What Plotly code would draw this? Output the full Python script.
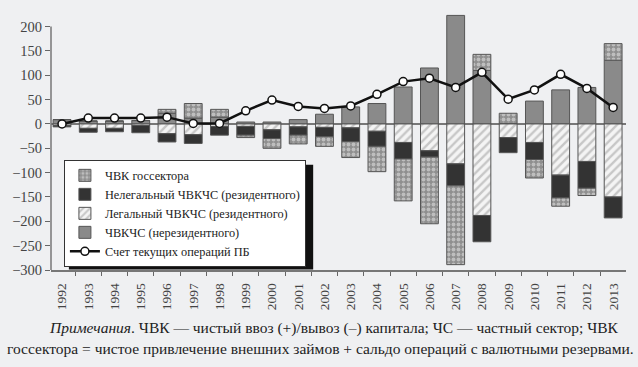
import plotly.graph_objects as go

years = [str(y) for y in range(1992, 2014)]
nonres = [9, 6, 6, 7, 22, 12, 14, 4, 4, 9, 20, 35, 42, 76, 115, 223, 110, 1, 47, 70, 75, 131]
legal = [-3, -9, -9, -3, -20, -22, -5, -5, -12, -6, -7, -8, -15, -38, -55, -82, -188, -28, -38, -105, -77, -150]
illegal = [-3, -8, -7, -15, -17, -18, -18, -18, -18, -17, -19, -28, -31, -34, -13, -45, -54, -31, -35, -47, -55, -43]
gov = [0, 0, 0, 0, 8, 30, 16, -5, -20, -18, -20, -33, -52, -86, -137, -162, 33, 21, -38, -17, -15, 34]
current = [0, 12, 12, 12, 14, 1, 1, 27, 49, 36, 32, 37, 61, 87, 94, 75, 106, 51, 70, 102, 73, 34]

y_ticks = [200, 150, 100, 50, 0, -50, -100, -150, -200, -250, -300]

names = {
    "gov": "ЧВК госсектора",
    "illegal": "Нелегальный ЧВКЧС (резидентного)",
    "legal": "Легальный ЧВКЧС (резидентного)",
    "nonres": "ЧВКЧС (нерезидентного)",
    "current": "Счет текущих операций ПБ",
}

BG = "#eff0f2"
FONT = "Liberation Serif"
edge = dict(color="#555555", width=1)
W = 0.68

# pixel helpers for layout (plot area: x 47..626, y 12..270.4)
def px_x(p):
    return (p - 47) / 579.0

def px_y(p):
    return (270.4 - p) / 258.6

fig = go.Figure()
fig.add_trace(go.Bar(
    x=years, y=nonres, name=names["nonres"], legendrank=4, width=W,
    marker=dict(color="#8a8a8a", line=edge)))
fig.add_trace(go.Bar(
    x=years, y=legal, name=names["legal"], legendrank=3, width=W,
    marker=dict(color="#f4f4f4", line=edge,
                pattern=dict(shape="/", fgcolor="#9a9a9a", bgcolor="#f4f4f4",
                             size=6, solidity=0.4))))
fig.add_trace(go.Bar(
    x=years, y=illegal, name=names["illegal"], legendrank=2, width=W,
    marker=dict(color="#333333", line=edge)))
fig.add_trace(go.Bar(
    x=years, y=gov, name=names["gov"], legendrank=1, width=W,
    marker=dict(color="#8f8f8f", line=edge,
                pattern=dict(shape=".", fgcolor="#eeeeee", bgcolor="#8f8f8f",
                             size=5, solidity=0.45))))
fig.add_trace(go.Scatter(
    x=years, y=current, name=names["current"], legendrank=5, mode="lines+markers",
    line=dict(color="#111111", width=2.5),
    marker=dict(symbol="circle", size=8, color="white",
                line=dict(color="#111111", width=1.5))))

fig.update_layout(
    width=638, height=367,
    margin=dict(l=47, r=12, t=12, b=97),
    paper_bgcolor=BG, plot_bgcolor=BG,
    barmode="relative",
    font=dict(family=FONT, size=12, color="#333333"),
    showlegend=True,
    legend=dict(x=px_x(60), y=px_y(160), xanchor="left", yanchor="top",
                bgcolor="white", bordercolor="#333333", borderwidth=1,
                font=dict(family=FONT, size=12.3, color="#222222"),
                tracegroupgap=0, itemwidth=30),
    xaxis=dict(type="category", range=[-0.42, 21.49], tickangle=-90,
               ticks="outside", ticklen=4, tickcolor="#666666", tickson="boundaries",
               ticklabelstandoff=6,
               showline=True, linecolor="#777777", linewidth=1.5,
               showgrid=False, zeroline=False,
               tickfont=dict(family=FONT, size=13.5, color="#444444")),
    yaxis=dict(range=[-300, 230], tickvals=y_ticks, ticks="outside", ticklen=5,
               tickcolor="#666666", showline=False, showgrid=False,
               zeroline=True, zerolinecolor="#777777", zerolinewidth=1.5,
               tickfont=dict(family=FONT, size=14.5, color="#444444")),
)

# y axis line only from -300 to 200
fig.add_shape(type="line", xref="paper", yref="y", x0=0, x1=0, y0=-300, y1=200,
              line=dict(color="#777777", width=1.5), layer="above")
# legend drop shadow
fig.add_shape(type="rect", xref="paper", yref="paper",
              x0=px_x(65), x1=px_x(311), y0=px_y(270), y1=px_y(165),
              fillcolor="#111111", line=dict(width=0), layer="above")

fig.add_annotation(
    xref="paper", yref="paper", x=px_x(43), y=px_y(329), xanchor="left", yanchor="middle",
    showarrow=False,
    text="<i>Примечания</i>. ЧВК — чистый ввоз (+)/вывоз (–) капитала; ЧС — частный сектор; ЧВК",
    font=dict(family=FONT, size=15.5, color="#222222"))
fig.add_annotation(
    xref="paper", yref="paper", x=px_x(1), y=px_y(349), xanchor="left", yanchor="middle",
    showarrow=False,
    text="госсектора = чистое привлечение внешних займов + сальдо операций с валютными резервами.",
    font=dict(family=FONT, size=15.5, color="#222222"))

fig.write_html("out.html", config={"displayModeBar": False},
               post_script="document.body.style.margin='0';document.body.style.background='%s';" % BG)
